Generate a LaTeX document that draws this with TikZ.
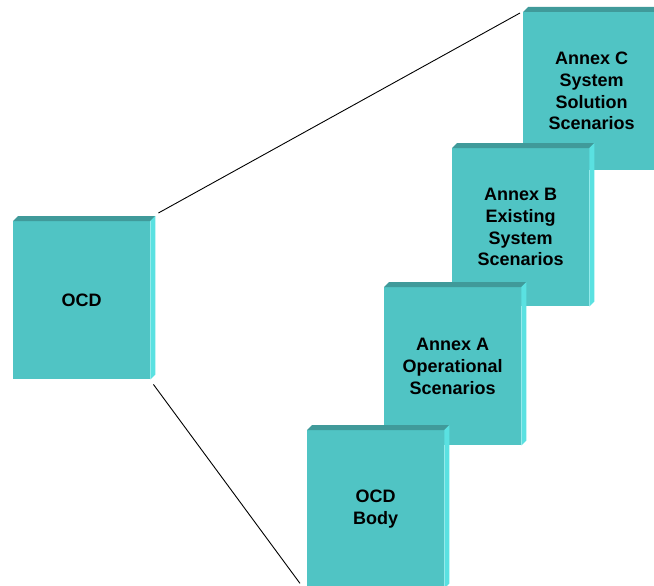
\documentclass[tikz,border=0pt]{standalone}
\usepackage{fontspec}
\setmainfont{Liberation Sans}
\usetikzlibrary{calc}
\definecolor{facecol}{HTML}{50C4C4}
\definecolor{topcol}{HTML}{409A9A}
\definecolor{sidecol}{HTML}{5AE1E1}
\tikzset{
  cubeface/.style={rectangle, fill=facecol, inner sep=0pt, anchor=north west,
    minimum width=137pt, minimum height=158pt, align=center,
    font=\fontsize{18pt}{21.7pt}\selectfont\bfseries},
  topstrip/.style={fill=topcol},
  sidestrip/.style={fill=sidecol},
  link/.style={draw=black, line width=0.9pt}
}
\newcommand{\cubebox}[4]{%
  \node[cubeface] (#1) at (#2,#3) {#4};
  \fill[topstrip] (#1.north west) -- ++(5,-5) -- ([shift={(5,-5)}]#1.north east) -- (#1.north east) -- cycle;
  \fill[sidestrip] (#1.north east) -- ++(5,-5) -- ([shift={(5,-5)}]#1.south east) -- (#1.south east) -- cycle;
}
\begin{document}
\begin{tikzpicture}[x=1pt,y=-1pt]
\useasboundingbox (0,0) rectangle (654,586);
\clip (0,0) rectangle (654,586);
\cubebox{ocd}{13}{221}{OCD}
\cubebox{annexc}{523}{12}{Annex C\\System\\Solution\\Scenarios}
\cubebox{annexb}{452}{148}{Annex B\\Existing\\System\\Scenarios}
\cubebox{annexa}{384}{287}{Annex A\\Operational\\Scenarios}
\cubebox{body}{307}{430}{OCD\\Body}
\draw[link] ([shift={(8,-8)}]ocd.north east) -- ([shift={(-3,1)}]annexc.north west);
\draw[link] ([shift={(3,5)}]ocd.south east) -- ([shift={(-7,-5)}]body.south west);
\end{tikzpicture}
\end{document}
